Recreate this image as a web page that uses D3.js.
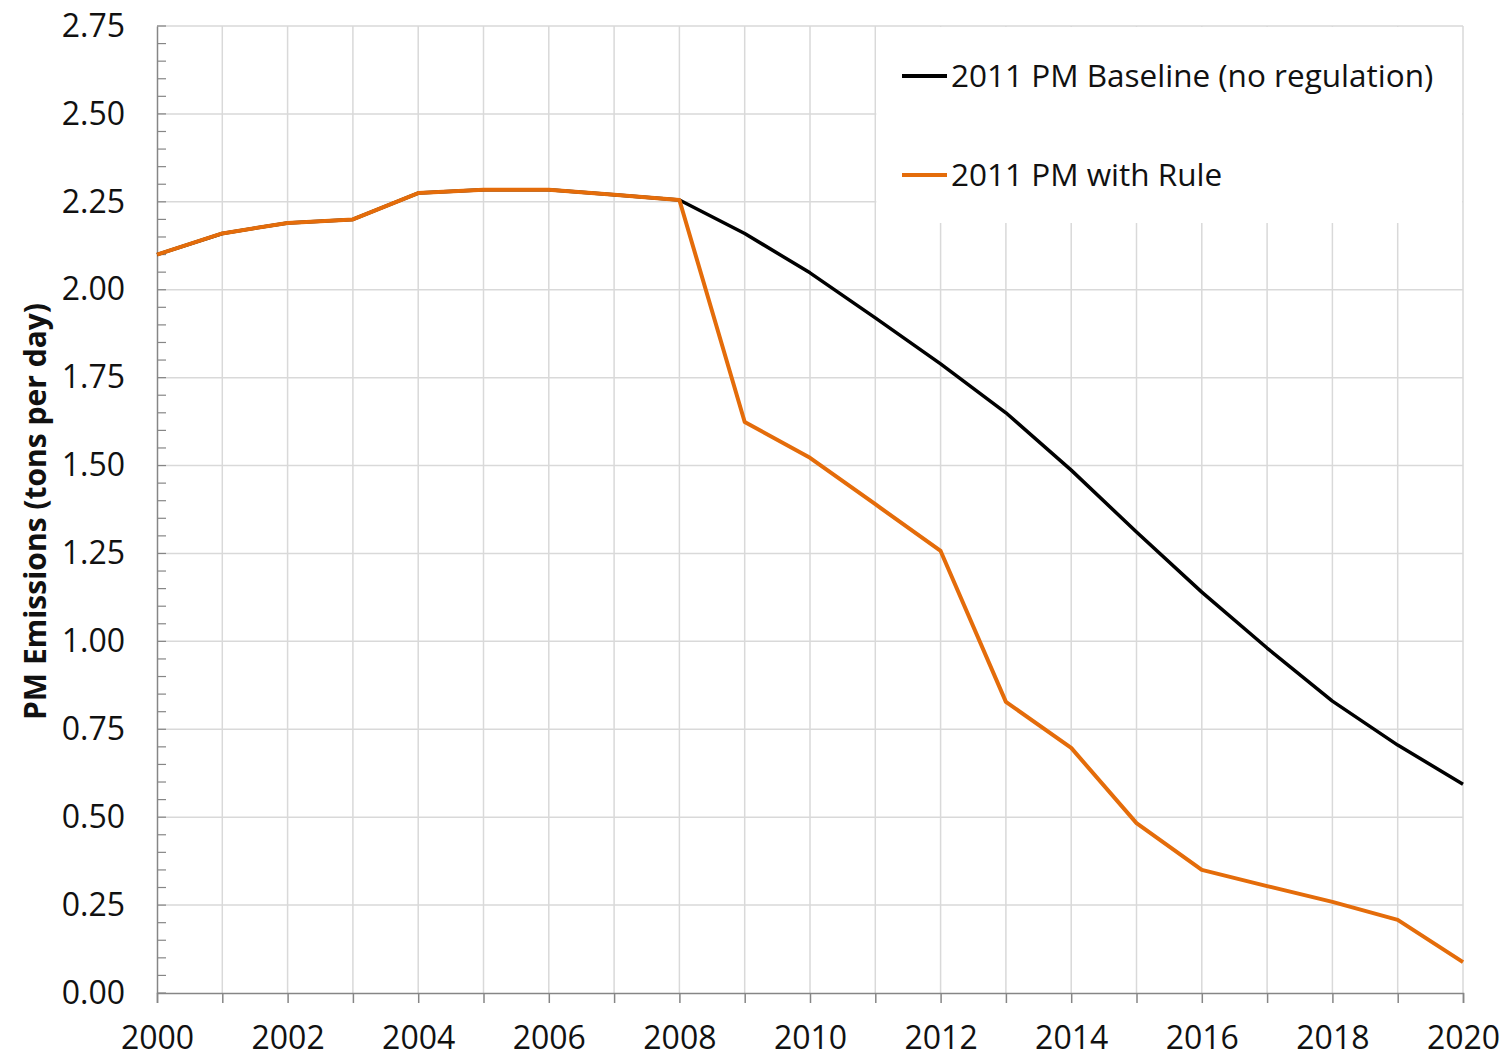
<!DOCTYPE html>
<html>
<head>
<meta charset="utf-8">
<script src="https://cdn.jsdelivr.net/npm/d3@7"></script>
<style>
  body { margin: 0; background: #fff; }
  text { font-family: "Open Sans", "Liberation Sans", sans-serif; fill: #111; }
</style>
</head>
<body>
<svg id="chart" width="1509" height="1057"></svg>
<script>
// data
const years = d3.range(2000, 2021);
const baseline = [2.10, 2.16, 2.19, 2.20, 2.275, 2.284, 2.284, 2.27, 2.255,
                  2.16, 2.048, 1.92, 1.789, 1.65, 1.487, 1.311, 1.14, 0.981, 0.83, 0.705, 0.594];
const withRule = [2.10, 2.16, 2.19, 2.20, 2.275, 2.284, 2.284, 2.27, 2.255,
                  1.624, 1.522, 1.39, 1.257, 0.828, 0.697, 0.483, 0.35, 0.304, 0.259, 0.208, 0.088];
const yTicks = d3.range(0, 2.76, 0.25);
const xTicks = d3.range(2000, 2021, 2);
const seriesNames = ["2011 PM Baseline (no regulation)", "2011 PM with Rule"];
const seriesColors = ["#000000", "#E46C0A"];

const svg = d3.select("#chart");
const margin = {top: 26, right: 46, bottom: 64, left: 157};
const W = 1509, H = 1057;
const iw = W - margin.left - margin.right;
const ih = H - margin.top - margin.bottom;

const g = svg.append("g").attr("transform", `translate(${margin.left},${margin.top})`);

const x = d3.scaleLinear().domain([2000, 2020]).range([0, iw]);
const y = d3.scaleLinear().domain([0, 2.75]).range([ih, 0]);

// gridlines
g.append("g").selectAll("line.vg")
  .data(years.slice(1))
  .enter().append("line")
  .attr("x1", d => x(d)).attr("x2", d => x(d))
  .attr("y1", 0).attr("y2", ih)
  .attr("stroke", "#d9d9d9").attr("stroke-width", 1.5);

g.append("g").selectAll("line.hg")
  .data(yTicks.slice(1))
  .enter().append("line")
  .attr("x1", 0).attr("x2", iw)
  .attr("y1", d => y(d)).attr("y2", d => y(d))
  .attr("stroke", "#d9d9d9").attr("stroke-width", 1.5);

// y axis minor ticks (inside)
g.append("g").selectAll("line.mt")
  .data(d3.range(0, 2.751, 0.05))
  .enter().append("line")
  .attr("x1", 0).attr("x2", 9)
  .attr("y1", d => y(d)).attr("y2", d => y(d))
  .attr("stroke", "#868686").attr("stroke-width", 1.2);

// axes
const yAxis = g.append("g")
  .call(d3.axisLeft(y).tickValues(yTicks).tickFormat(d3.format(".2f")).tickSize(0).tickPadding(32));
yAxis.select(".domain").attr("stroke", "#868686").attr("stroke-width", 1.5);
yAxis.selectAll("text").style("font-size", "32px").attr("fill", "#111");

const xAxis = g.append("g")
  .attr("transform", `translate(0,${ih})`)
  .call(d3.axisBottom(x).tickValues(years).tickSize(10).tickFormat(d => xTicks.includes(d) ? d : ""));
xAxis.select(".domain").attr("stroke", "#868686").attr("stroke-width", 1.5);
xAxis.selectAll(".tick line").attr("stroke", "#868686").attr("stroke-width", 1.5);
xAxis.selectAll("text").style("font-size", "32px").attr("fill", "#111").attr("y", 24).attr("dy", "1em");

// legend background
const legend = g.append("g");
legend.append("rect")
  .attr("x", x(2011) + 1).attr("y", 1)
  .attr("width", x(2020) - x(2011) - 2).attr("height", 196)
  .attr("fill", "#fff");

// lines
const line = d3.line().x((d, i) => x(years[i])).y(d => y(d));
g.append("path").datum(baseline)
  .attr("d", line).attr("fill", "none")
  .attr("stroke", seriesColors[0]).attr("stroke-width", 3.5).attr("stroke-linejoin", "round");
g.append("path").datum(withRule)
  .attr("d", line).attr("fill", "none")
  .attr("stroke", seriesColors[1]).attr("stroke-width", 4).attr("stroke-linejoin", "round");

// legend entries
seriesNames.forEach((name, i) => {
  const ly = 50 + i * 99;
  legend.append("line")
    .attr("x1", 745).attr("x2", 790)
    .attr("y1", ly).attr("y2", ly)
    .attr("stroke", seriesColors[i]).attr("stroke-width", 4);
  legend.append("text")
    .attr("x", 794).attr("y", ly)
    .attr("dy", "0.36em")
    .style("font-size", "31.5px")
    .text(name);
});

// y axis title
svg.append("text")
  .attr("transform", `translate(46,${margin.top + ih / 2 + 2}) rotate(-90)`)
  .attr("text-anchor", "middle")
  .style("font-size", "30px")
  .style("font-weight", "bold")
  .text("PM Emissions (tons per day)");
</script>
</body>
</html>
